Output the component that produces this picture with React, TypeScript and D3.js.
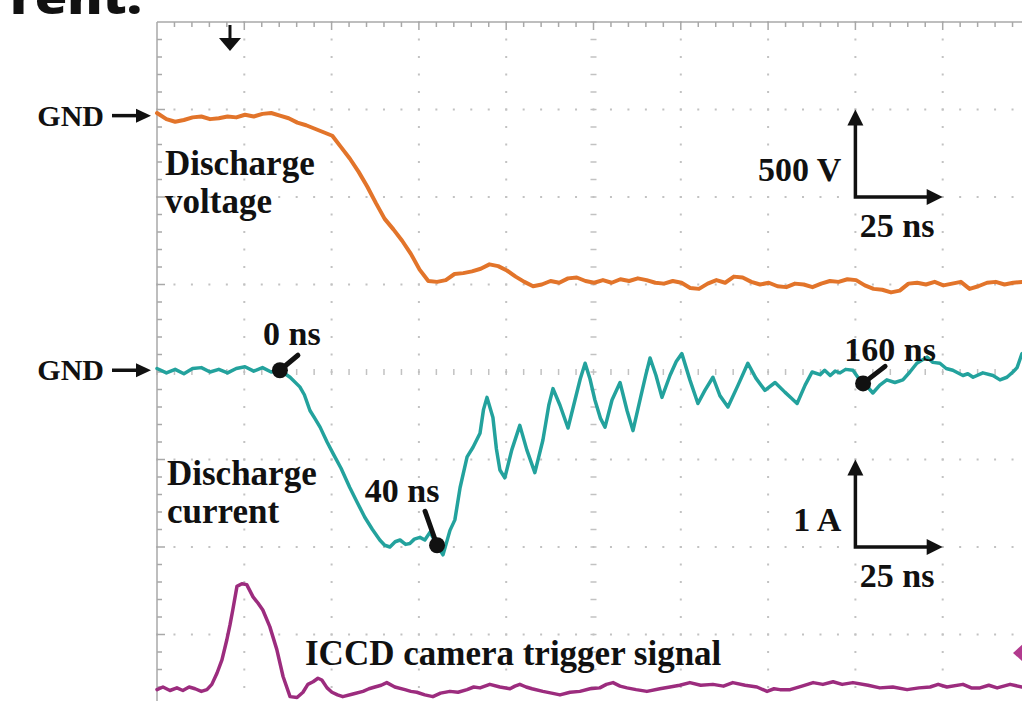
import React, { useEffect, useRef } from "react";
import * as d3 from "d3";

const W = 1022;
const H = 701;

// time axis in ns, 25 ns/div, 10 divisions across the screen
const timeDomain = [-35.2, 214.8];
const nsPerDiv = 25;

// discharge voltage [ns, V], 500 V/div
const voltage: [number, number][] = [
  [-35.2, 15], [-32.5, -20], [-30, -35], [-27.5, -25], [-25, -10], [-22.5, -5], [-20, -20],
  [-17.5, -15], [-15, -5], [-12.5, -10], [-10, 5], [-7.5, -5], [-5, 10], [-2.5, 15], [0, 0],
  [2.5, -15], [5, -40], [7.5, -55], [10, -75], [12.5, -95], [15, -115], [17.5, -180],
  [20, -245], [22.5, -320], [25, -405], [27.5, -500], [30, -590], [32.5, -650], [35, -715],
  [37.5, -790], [40, -880], [42.5, -945], [45, -950], [47.5, -940], [50, -905], [52.5, -900],
  [55, -890], [57.5, -875], [60, -850], [62.5, -860], [65, -885], [67.5, -920], [70, -950],
  [72.5, -975], [75, -965], [77.5, -945], [80, -955], [82.5, -930], [85, -925], [87.5, -945],
  [90, -955], [92.5, -940], [95, -955], [97.5, -935], [100, -945], [102.5, -930], [105, -940],
  [107.5, -955], [110, -960], [112.5, -945], [115, -955], [117.5, -985], [120, -990],
  [122.5, -960], [125, -940], [127.5, -955], [130, -920], [132.5, -925], [135, -950],
  [137.5, -965], [140, -955], [142.5, -975], [145, -980], [147.5, -960], [150, -965],
  [152.5, -980], [155, -960], [157.5, -945], [160, -950], [162.5, -935], [165, -940],
  [167.5, -970], [170, -990], [172.5, -995], [175, -1010], [177.5, -1000], [180, -960],
  [182.5, -955], [185, -965], [187.5, -950], [190, -970], [192.5, -960], [195, -950],
  [197.5, -990], [200, -975], [202.5, -955], [205, -950], [207.5, -965], [210, -955],
  [212.5, -950], [214.8, -945],
];

// discharge current [ns, A], 1 A/div
const current: [number, number][] = [
  [-35.2, 0.02], [-32.5, -0.03], [-30, 0.01], [-27.5, -0.04], [-25, 0.02], [-22.5, 0.03],
  [-20, -0.02], [-17.5, 0.01], [-15, -0.03], [-12.5, 0.02], [-10, 0.04], [-7.5, -0.01],
  [-5, 0.03], [-2.5, -0.02], [0, 0], [2.9, -0.08], [5.7, -0.19], [7, -0.28], [8.6, -0.46],
  [10, -0.55], [11.5, -0.65], [13.5, -0.82], [15.2, -0.95], [17.5, -1.12], [20, -1.34],
  [22, -1.5], [24.3, -1.68], [26.5, -1.82], [28.6, -1.94], [30, -2.0], [31.5, -2.02],
  [33, -1.96], [34.4, -1.94], [36, -1.99], [37.2, -1.98], [38.5, -1.93], [40.1, -1.91],
  [41.5, -1.94], [43, -1.85], [45, -2.0], [46.7, -2.11], [48.7, -1.83], [50.1, -1.71],
  [51.6, -1.34], [53.6, -0.99], [55.3, -0.88], [57.3, -0.72], [58.3, -0.45], [59.3, -0.31],
  [61, -0.54], [62, -0.9], [63, -1.14], [64.4, -1.23], [66.4, -0.91], [68.7, -0.63],
  [70.7, -0.91], [73, -1.17], [75.3, -0.8], [77, -0.4], [78.2, -0.21], [80.2, -0.4],
  [82.5, -0.66], [84.5, -0.34], [86, -0.1], [87.4, 0.08], [88.8, -0.1], [90.2, -0.34],
  [91.8, -0.55], [93.1, -0.65], [95.1, -0.34], [97.4, -0.14], [99.4, -0.46], [101.1, -0.69],
  [103.4, -0.29], [104.8, -0.05], [106, 0.14], [107.7, -0.06], [109.4, -0.31], [111.7, -0.06],
  [113.5, 0.1], [115.1, 0.19], [117.4, -0.11], [119.7, -0.38], [121.7, -0.23], [124, -0.08],
  [126, -0.29], [128.3, -0.42], [131.2, -0.17], [134, 0.08], [136.3, -0.09], [138.9, -0.23],
  [141.8, -0.14], [144.6, -0.25], [146.5, -0.32], [148.1, -0.38], [150.4, -0.17],
  [152.4, -0.02], [154.7, -0.05], [156, 0.0], [157.6, -0.06], [159, -0.01], [160.4, -0.03],
  [162, 0.01], [164.1, 0], [165.5, -0.08], [167, -0.15], [168.5, -0.2], [169.8, -0.26],
  [171.8, -0.17], [173.8, -0.11], [176.1, -0.14], [178.4, -0.11], [180.4, -0.02],
  [182.4, 0.08], [185.3, 0.15], [187, 0.09], [189, 0.08], [190.8, 0.02], [192.7, 0],
  [195.6, -0.06], [197, -0.04], [198.5, -0.08], [201.3, -0.03], [204.2, -0.06],
  [206.2, -0.11], [208.2, -0.08], [209.9, -0.02], [211.1, 0.03], [212.5, 0.19], [214.8, 0.22],
];

// ICCD camera trigger signal [ns, div above its baseline]
const trigger: [number, number][] = [
  [-35.2, 0], [-33.5, 0.03], [-31.5, -0.01], [-29.5, 0.02], [-27.8, -0.01], [-26, 0.03],
  [-24.3, 0.01], [-22.5, -0.02], [-20.9, 0], [-19.5, 0.06], [-18, 0.19], [-16.6, 0.34],
  [-15.2, 0.57], [-14.3, 0.74], [-13.5, 0.91], [-12.3, 1.18], [-10.9, 1.21], [-9.5, 1.2],
  [-7.7, 1.06], [-6.3, 0.99], [-4.9, 0.91], [-2.9, 0.72], [-0.9, 0.46], [0.9, 0.15],
  [2.9, -0.08], [4.9, -0.09], [6.6, -0.03], [8, 0.06], [9.5, 0.09], [10.9, 0.13], [12, 0.11],
  [13.5, 0.02], [14.9, -0.03], [16.5, -0.06], [18, -0.08], [20.9, -0.05], [23.8, -0.02],
  [25.5, 0.01], [27.2, 0.03], [29, 0.05], [30.6, 0.08], [32.9, 0.03], [35.8, 0],
  [37.5, -0.02], [39.2, -0.03], [41.5, -0.06], [43.8, -0.08], [46, -0.04], [48.7, -0.02],
  [51, -0.03], [53.6, 0], [55.5, 0.03], [57.3, 0.02], [60.1, 0.06], [63, 0.03], [65.9, 0.01],
  [67.3, 0.04], [68.7, 0.06], [70.5, 0.03], [72.2, 0.01], [75.3, -0.02], [77.8, -0.04],
  [80.2, -0.06], [83.1, -0.03], [85.9, -0.02], [88.8, 0.01], [91.6, 0.02], [93.5, 0.06],
  [95.4, 0.08], [97.4, 0.04], [99.4, 0.02], [102, 0.0], [105.1, -0.02], [108.8, 0.01],
  [111.7, 0.03], [114.5, 0.05], [117.4, 0.08], [120.5, 0.05], [124, 0.06], [127, 0.04],
  [129.7, 0.08], [133.2, 0.05], [136.6, 0.03], [139.5, -0.02], [141.5, 0.01], [143.2, 0],
  [146.1, 0], [149.5, 0.04], [152.7, 0.08], [155.5, 0.06], [158.4, 0.09], [161, 0.06],
  [164.1, 0.08], [168.4, 0.05], [171.8, 0.02], [175.5, 0.03], [179.6, 0], [183, 0.02],
  [186.2, 0.03], [188.5, 0.06], [191, 0.03], [195.6, 0.06], [198, 0.02], [200.5, 0.02],
  [203, 0.05], [205.4, 0.02], [209.1, 0.06], [212.5, 0.03], [214.8, 0.04],
];

// cursors placed on the current trace
const markerTimes = [0, 45, 167];
const markerLabels = ["0 ns", "40 ns", "160 ns"];

// channel ground levels in divisions from screen centre
const voltageGnd = 2.93;
const currentGnd = 0.02;
const triggerBase = -3.63;
const voltsPerDiv = 500;
const ampsPerDiv = 1;
const triggerTime = -14.3;
const triggerLevel = 0.42;

const serif = "'Liberation Serif', 'Times New Roman', serif";

export default function App() {
  const ref = useRef<SVGSVGElement>(null);

  useEffect(() => {
    const svg = d3.select(ref.current);
    svg.selectAll("*").remove();

    const x = d3.scaleLinear().domain(timeDomain).range([157, 1030]);
    const xDiv = d3.scaleLinear().domain([0, 10]).range([157, 1030]);
    const yDiv = d3.scaleLinear().domain([4, -4]).range([22, 722]);

    const grid = svg.append("g").attr("fill", "#c2c2c2");

    // dotted graticule
    for (let k = 1; k < 10; k++) {
      if (k === 5) continue;
      d3.range(0, 40).forEach((m) => {
        grid.append("rect")
          .attr("x", xDiv(k) - 1).attr("y", yDiv(4 - m * 0.2) - 1)
          .attr("width", 2).attr("height", 2);
      });
    }
    for (let k = 1; k < 8; k++) {
      if (k === 4) continue;
      d3.range(0, 50).forEach((m) => {
        grid.append("rect")
          .attr("x", xDiv(m * 0.2) - 1).attr("y", yDiv(4 - k) - 1)
          .attr("width", 2).attr("height", 2);
      });
    }
    // centre lines with minor ticks
    d3.range(0, 40).forEach((m) => {
      grid.append("rect")
        .attr("x", xDiv(5) - 3).attr("y", yDiv(4 - m * 0.2) - 0.75)
        .attr("width", 6).attr("height", 1.5);
    });
    d3.range(0, 50).forEach((m) => {
      grid.append("rect")
        .attr("x", xDiv(m * 0.2) - 0.75).attr("y", yDiv(0) - 3)
        .attr("width", 1.5).attr("height", 6);
    });

    // frame with ruler ticks
    const frame = svg.append("g").attr("stroke", "#a8a8a8").attr("stroke-width", 1.5);
    frame.append("line").attr("x1", 157).attr("x2", W).attr("y1", yDiv(4)).attr("y2", yDiv(4));
    frame.append("line").attr("x1", xDiv(0)).attr("x2", xDiv(0)).attr("y1", yDiv(4)).attr("y2", H);
    d3.range(1, 50).forEach((m) => {
      frame.append("line")
        .attr("x1", xDiv(m * 0.2)).attr("x2", xDiv(m * 0.2))
        .attr("y1", yDiv(4)).attr("y2", yDiv(4) + (m % 5 === 0 ? 8 : 5));
    });
    d3.range(1, 40).forEach((m) => {
      frame.append("line")
        .attr("x1", xDiv(0)).attr("x2", xDiv(0) + (m % 5 === 0 ? 8 : 5))
        .attr("y1", yDiv(4 - m * 0.2)).attr("y2", yDiv(4 - m * 0.2));
    });

    // traces
    const vLine = d3.line<[number, number]>()
      .x((d) => x(d[0]))
      .y((d) => yDiv(voltageGnd + d[1] / voltsPerDiv));
    const iLine = d3.line<[number, number]>()
      .x((d) => x(d[0]))
      .y((d) => yDiv(currentGnd + d[1] / ampsPerDiv));
    const tLine = d3.line<[number, number]>()
      .x((d) => x(d[0]))
      .y((d) => yDiv(triggerBase + d[1]));

    const traces = svg.append("g").attr("fill", "none")
      .attr("stroke-linejoin", "round").attr("stroke-linecap", "round");
    traces.append("path").datum(voltage).attr("d", vLine)
      .attr("stroke", "#E2742A").attr("stroke-width", 4);
    traces.append("path").datum(current).attr("d", iLine)
      .attr("stroke", "#23A29D").attr("stroke-width", 3.5);
    traces.append("path").datum(trigger).attr("d", tLine)
      .attr("stroke", "#9C2C7E").attr("stroke-width", 3.5);

    // trigger level marker on the right edge
    const ty = yDiv(triggerBase + triggerLevel);
    svg.append("path")
      .attr("d", `M${W - 9},${ty} L${W + 1},${ty - 9} L${W + 11},${ty} L${W + 1},${ty + 9} Z`)
      .attr("fill", "#B23A8E");

    // trigger time arrow at top
    const tx = x(triggerTime);
    svg.append("line").attr("x1", tx).attr("x2", tx).attr("y1", 25).attr("y2", 42)
      .attr("stroke", "#111").attr("stroke-width", 3);
    svg.append("path")
      .attr("d", `M${tx - 11},${38} L${tx + 11},${38} L${tx},${51} Z`)
      .attr("fill", "#111");

    // text
    const text = svg.append("g").attr("font-family", serif).attr("font-weight", "bold")
      .attr("fill", "#111");

    // GND arrows
    [voltageGnd, currentGnd].forEach((gd) => {
      const gy = yDiv(gd);
      text.append("text").attr("x", 104).attr("y", gy + 10).attr("text-anchor", "end")
        .attr("font-size", 30).text("GND");
      svg.append("line").attr("x1", 112).attr("x2", 140).attr("y1", gy).attr("y2", gy)
        .attr("stroke", "#111").attr("stroke-width", 3.5);
      svg.append("path").attr("d", `M${136},${gy - 7} L${151},${gy} L${136},${gy + 7} Z`)
        .attr("fill", "#111");
    });

    const addLabel = (lines: string[], lx: number, ly: number) => {
      lines.forEach((s, i) => {
        text.append("text").attr("x", lx).attr("y", ly + i * 38)
          .attr("font-size", 35).text(s);
      });
    };
    addLabel(["Discharge", "voltage"], 165, 175);
    addLabel(["Discharge", "current"], 167, 485);
    text.append("text").attr("x", 305).attr("y", 665).attr("font-size", 35)
      .text("ICCD camera trigger signal");

    // scale arrows
    const scaleBar = (row: number, unit: string) => {
      const cx = xDiv(8);
      const cy = yDiv(row);
      const g = svg.append("g");
      g.append("path")
        .attr("d", `M${cx},${yDiv(row + 1) + 12} L${cx},${cy} L${xDiv(9) - 12},${cy}`)
        .attr("fill", "none").attr("stroke", "#111").attr("stroke-width", 3.5);
      g.append("path")
        .attr("d", `M${cx - 8},${yDiv(row + 1) + 16} L${cx},${yDiv(row + 1)} L${cx + 8},${yDiv(row + 1) + 16} Z`)
        .attr("fill", "#111");
      g.append("path")
        .attr("d", `M${xDiv(9) - 16},${cy - 8} L${xDiv(9)},${cy} L${xDiv(9) - 16},${cy + 8} Z`)
        .attr("fill", "#111");
      text.append("text").attr("x", cx - 14).attr("y", cy - 16).attr("text-anchor", "end")
        .attr("font-size", 34).text(unit);
      text.append("text").attr("x", (cx + xDiv(9)) / 2 - 2).attr("y", cy + 40)
        .attr("text-anchor", "middle").attr("font-size", 34).text(`${nsPerDiv} ns`);
    };
    scaleBar(2, "500 V");
    scaleBar(-2, "1 A");

    // cursor pins on the current trace
    const bis = d3.bisector((d: [number, number]) => d[0]).left;
    const currentAt = (t: number) => {
      const i = Math.max(1, bis(current, t));
      const a = current[i - 1];
      const b = current[i];
      return a[1] + ((b[1] - a[1]) * (t - a[0])) / (b[0] - a[0]);
    };
    const stick = [[18, -15], [-12, -34], [22, -17]];
    const labelOff = [[12, -25], [-35, -43], [27, -22]];
    markerTimes.forEach((t, i) => {
      const mx = x(t);
      const my = yDiv(currentGnd + currentAt(t) / ampsPerDiv);
      svg.append("line").attr("x1", mx).attr("y1", my)
        .attr("x2", mx + stick[i][0]).attr("y2", my + stick[i][1])
        .attr("stroke", "#111").attr("stroke-width", 5).attr("stroke-linecap", "round");
      svg.append("circle").attr("cx", mx).attr("cy", my).attr("r", 8).attr("fill", "#111");
      text.append("text").attr("x", mx + labelOff[i][0]).attr("y", my + labelOff[i][1])
        .attr("text-anchor", "middle").attr("font-size", 34).text(markerLabels[i]);
    });

    // cropped heading from the page above
    svg.append("text").attr("x", 10).attr("y", 14)
      .attr("font-family", "'Open Sans', 'Noto Sans', sans-serif").attr("font-weight", 800)
      .attr("font-size", 46).attr("textLength", 132).attr("lengthAdjust", "spacingAndGlyphs")
      .attr("fill", "#111").text("rent.");
  }, []);

  return (
    <svg ref={ref} width={W} height={H}
      style={{ position: "absolute", left: 0, top: 0, background: "#fff", overflow: "hidden" }} />
  );
}
